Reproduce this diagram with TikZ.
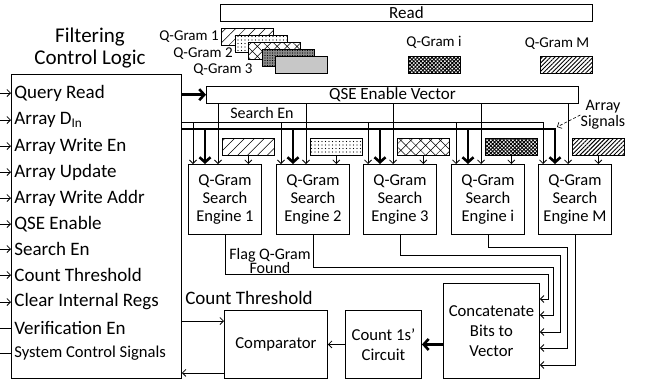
\documentclass[tikz,border=0pt]{standalone}
\usepackage{fontspec}
\setmainfont{Carlito}
\usetikzlibrary{arrows.meta,positioning,calc,patterns.meta}

\begin{document}
\begin{tikzpicture}[
    x=1pt, y=-1pt, line width=0.8pt, >={Straight Barb[length=3.5pt,width=7pt]},
    box/.style={rectangle, draw, line width=0.9pt, inner sep=0pt, anchor=north west, align=center, font=\fontsize{16.7}{20}\selectfont},
    engine/.style={box, minimum width=73pt, minimum height=70pt, font=\fontsize{16.5}{18}\selectfont},
    bar/.style={box, minimum width=372pt, minimum height=16.5pt, font=\fontsize{17}{20}\selectfont},
    gram/.style={draw, line width=0.6pt, fill=white, anchor=north west, minimum width=52pt, minimum height=17pt, inner sep=0pt},
    lbl/.style={inner sep=0pt, font=\fontsize{15}{17}\selectfont},
    sig/.style={inner sep=0pt, anchor=west, font=\fontsize{19}{22}\selectfont},
    bus/.style={line width=2.6pt, >={Straight Barb[length=5pt,width=11pt]}},
    pA/.style={postaction={pattern={Lines[angle=45,distance=7pt,line width=0.5pt]}}},
    pB/.style={postaction={pattern={Dots[distance=3.5pt,radius=0.6pt]}}},
    pC/.style={postaction={pattern={Hatch[angle=45,distance=7pt,line width=0.5pt]}}},
    pD/.style={fill=black!45, postaction={pattern={Dots[distance=2.5pt,radius=0.6pt]}}},
    pE/.style={fill=black!15, postaction={pattern={Dots[distance=2pt,radius=0.45pt]}}},
    pI/.style={postaction={pattern={Hatch[angle=45,distance=2.6pt,line width=0.9pt]}}},
    pM/.style={postaction={pattern={Lines[angle=45,distance=3pt,line width=0.9pt]}}}
]
\useasboundingbox (0,0) rectangle (649,383);

% filtering control logic
\node[inner sep=0pt, align=center, font=\fontsize{21}{22}\selectfont] (title) at (90,48) {Filtering\\Control Logic};
\node[box, minimum width=170pt, minimum height=304pt] (fcl) at (11,74) {};
\foreach \t/\y [count=\i] in {Query Read/93, Array D\textsubscript{In}/120, Array Write En/146, Array Update/172, Array Write Addr/198, QSE Enable/224, Search En/249, Count Threshold/275, Clear Internal Regs/302}
{
    \node[sig] (r\i) at (14,\y) {\t};
    \coordinate (in\i) at (0,\y);
    \draw[->] (in\i) -- (in\i -| fcl.west);
}
\node[sig] (r10) at (14,328) {Verification En};
\node[sig, font=\fontsize{16.6}{18}\selectfont] (r11) at (14,353) {System Control Signals};
\coordinate (in10) at (0,328);
\coordinate (in11) at (0,353);
\draw (in10) -- (in10 -| fcl.west);
\draw (in11) -- (in11 -| fcl.west);

% read and q-grams
\node[bar] (read) at (220,4) {Read};
\node[gram,pA] (g1) at (221,28) {};
\node[gram,pB] (g2) at (234.5,35) {};
\node[gram,pC] (g3) at (248,42) {};
\node[gram,pD] (g4) at (261.5,49) {};
\node[gram,pE] (g5) at (275,56) {};
\node[gram,pI] (gi) at (408,56) {};
\node[gram,pM] (gM) at (540,56) {};
\node[lbl, anchor=east] (l1) at (219,37) {Q-Gram 1};
\node[lbl, anchor=east] (l2) at (233,54) {Q-Gram 2};
\node[lbl, anchor=east] (l3) at (253,70) {Q-Gram 3};
\node[lbl] (li) at (434,42) {Q-Gram i};
\node[lbl] (lM) at (557,44) {Q-Gram M};

\node[bar] (qsev) at (206,86) {QSE Enable Vector};
\draw[bus,->] (qsev.west -| fcl.east) -- (qsev.west);

% search engines
\foreach \n/\x in {1/188,2/276,3/363,i/451,M/538}
    \node[engine] (e\n) at (\x,164) {Q-Gram\\Search\\Engine \n};
\node[gram,pA] (p1) at ($(e1.north west)+(34,-26)$) {};
\node[gram,pB] (p2) at ($(e2.north west)+(34,-26)$) {};
\node[gram,pC] (p3) at ($(e3.north west)+(34,-26)$) {};
\node[gram,pI] (pi) at ($(ei.north west)+(34,-26)$) {};
\node[gram,pM] (pM) at ($(eM.north west)+(34,-26)$) {};

\coordinate (srch) at ($(fcl.north east)+(0,48)$);
\coordinate (abus) at ($(fcl.north east)+(0,55)$);
\foreach \n in {1,2,3,i,M} {
    \coordinate (a\n) at ($(e\n.north west)+(5,0)$);
    \coordinate (b\n) at ($(e\n.north west)+(17,0)$);
    \coordinate (c\n) at ($(e\n.north west)+(30,0)$);
    \draw[->] (c\n |- qsev.south) -- (c\n);
    \draw[->] (p\n.south) -- (p\n.south |- e\n.north);
}
\draw[->] (srch) -| (aM);
\draw[bus,->] (abus) -| (bM);
\foreach \n in {1,2,3,i} {
    \draw[->] (a\n |- srch) -- (a\n);
    \draw[bus,->] (b\n |- abus) -- (b\n);
}
\node[lbl, font=\fontsize{16}{18}\selectfont] (sen) at (262,113) {Search En};
\node[lbl, align=center, font=\fontsize{16}{16}\selectfont] (asig) at (603,115) {Array\\Signals};
\coordinate (atip) at (557,127);
\draw[densely dashed, line width=0.6pt, ->] (asig.west) -- (atip);

% bottom blocks
\node[box, minimum width=96pt, minimum height=95pt] (cat) at (443,283) {Concatenate\\Bits to\\Vector};
\node[box, minimum width=76pt, minimum height=68pt] (cnt) at (345,310) {Count 1s’\\Circuit};
\node[box, minimum width=103pt, minimum height=68pt] (comp) at (224,310) {Comparator};

\foreach \k/\d in {1/16,2/32,3/49,4/65,5/82}
    \coordinate (cin\k) at ($(cat.north east)+(0,\d)$);
\draw[->] (e1.south) |- (548,274) |- (cin1);
\draw[->] (e2.south) |- (553,267) |- (cin2);
\draw[->] (e3.south) |- (560,255) |- (cin3);
\draw[->] (ei.south) |- (567,247) |- (cin4);
\draw[->] (eM.south) |- (cin5);
\node[lbl, align=center, font=\fontsize{16}{12}\selectfont] (flag) at (270,261) {Flag Q-Gram\\Found};

\node[lbl, font=\fontsize{19}{22}\selectfont] (cth) at (249,298) {Count Threshold};
\coordinate (cti) at ($(comp.north west)+(0,11)$);
\draw[->] (cti -| fcl.east) -- (cti);
\draw[bus,->] (cat.west |- cnt.east) -- (cnt.east);
\draw[->] (cnt.west) -- (comp.east);
\coordinate (cto) at ($(comp.south west)+(0,-6)$);
\draw[->] (cto) -- (cto -| fcl.east);
\end{tikzpicture}
\end{document}
